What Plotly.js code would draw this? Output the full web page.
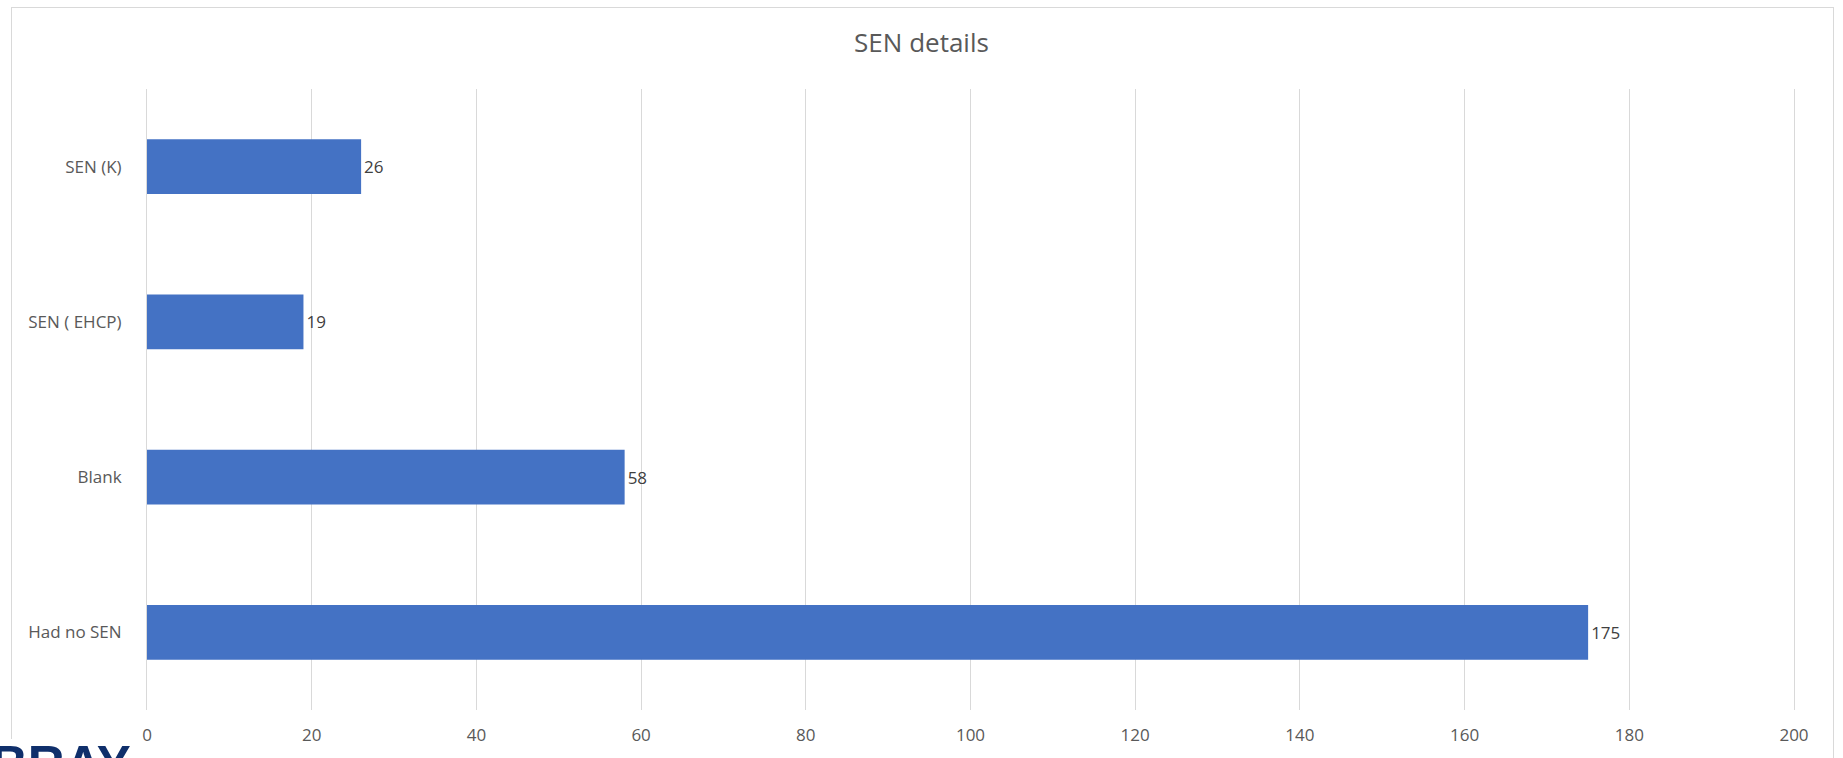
<!DOCTYPE html>
<html>
<head>
<meta charset="utf-8">
<script src="https://cdn.plot.ly/plotly-3.0.1.min.js"></script>
<style>
  html, body { margin: 0; padding: 0; background: #fff; overflow: hidden; }
  #frame { position: absolute; left: 11px; top: 7px; width: 1821px; height: 800px;
           border: 1px solid #d9d9d9; z-index: 0; }
  #chart { position: absolute; left: 0; top: 0; width: 1843px; height: 758px; z-index: 1; }
  #logo { position: absolute; left: -9px; top: 739px; z-index: 2; background: #fff;
          font: bold 51px "Liberation Sans", Arial, sans-serif; line-height: 1;
          color: #0f2f6b; padding-right: 4px; }
</style>
</head>
<body>
<div id="frame"></div>
<div id="chart"></div>
<div id="logo">BRAY</div>
<script>
  // categories top to bottom, as in the picture
  var categories = ['SEN (K)', 'SEN ( EHCP)', 'Blank', 'Had no SEN'];
  var counts = [26, 19, 58, 175];
  var xTicks = [0, 20, 40, 60, 80, 100, 120, 140, 160, 180, 200];

  var FONT = '"Open Sans", "Noto Sans", sans-serif';

  Plotly.newPlot('chart', [{
    type: 'bar',
    orientation: 'h',
    y: categories,
    x: counts,
    marker: { color: '#4472c4' },
    text: counts.map(String),
    textposition: 'outside',
    cliponaxis: false,
    textfont: { family: FONT, size: 17, color: '#404040' },
    hoverinfo: 'skip'
  }], {
    width: 1843,
    height: 758,
    margin: { l: 147, r: 49, t: 89, b: 48 },
    paper_bgcolor: 'rgba(0,0,0,0)',
    plot_bgcolor: 'rgba(0,0,0,0)',
    bargap: 0.646,
    showlegend: false,
    font: { family: FONT, color: '#595959' },
    title: {
      text: 'SEN details',
      font: { family: FONT, size: 26, color: '#595959' },
      x: 0.5, xref: 'container', xanchor: 'center',
      y: 1 - 43 / 758, yref: 'container', yanchor: 'middle'
    },
    xaxis: {
      range: [0, 200],
      tickvals: xTicks,
      showgrid: true,
      gridcolor: '#d9d9d9',
      gridwidth: 1,
      zeroline: false,
      showline: false,
      ticks: '',
      ticklabelstandoff: 13,
      tickfont: { family: FONT, size: 17, color: '#595959' },
      fixedrange: true
    },
    yaxis: {
      type: 'category',
      autorange: 'reversed',
      showgrid: false,
      zeroline: false,
      showline: true,
      linecolor: '#d9d9d9',
      linewidth: 1,
      mirror: true,
      ticks: '',
      ticklabelstandoff: 21,
      tickfont: { family: FONT, size: 17, color: '#595959' },
      fixedrange: true
    }
  }, { displayModeBar: false, staticPlot: true });
</script>
</body>
</html>
